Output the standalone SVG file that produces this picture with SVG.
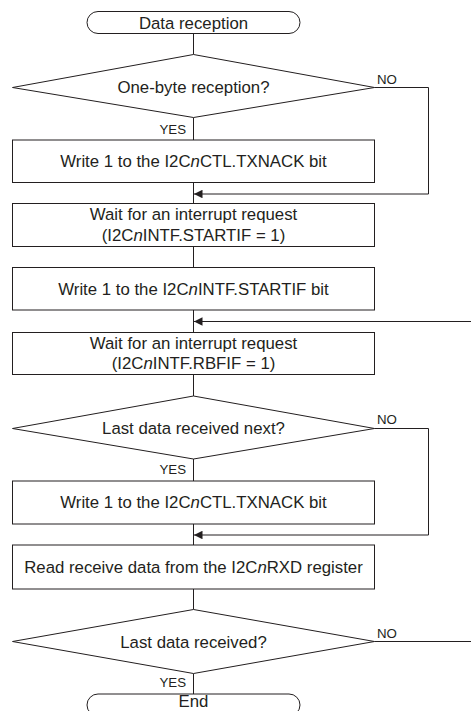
<svg xmlns="http://www.w3.org/2000/svg" width="471" height="711" viewBox="0 0 471 711">
<style>
.shape{fill:#fff;stroke:#231f20;stroke-width:1}
.conn{fill:none;stroke:#231f20;stroke-width:1}
.t{font-family:"Liberation Sans",Arial,sans-serif;font-size:16.8px;fill:#231f20;text-anchor:middle}
.lbl{font-family:"Liberation Sans",Arial,sans-serif;font-size:13.3px;fill:#231f20}
.i{font-style:italic}
</style>
<defs>
<marker id="ah" viewBox="0 0 10 10" refX="10" refY="5" markerWidth="9" markerHeight="8.5" markerUnits="userSpaceOnUse" orient="auto">
<path d="M0,0 L10,5 L0,10 Z" fill="#231f20"/>
</marker>
</defs>
<rect width="471" height="711" fill="#fff"/>
<g id="connectors">
<line class="conn" x1="193.5" y1="33.5" x2="193.5" y2="54.5"/>
<line class="conn" x1="193.5" y1="117.5" x2="193.5" y2="140"/>
<line class="conn" x1="193.5" y1="182.5" x2="193.5" y2="203.5"/>
<polyline class="conn" points="374.5,87.5 428.5,87.5 428.5,194 194,194" marker-end="url(#ah)"/>
<line class="conn" x1="193.5" y1="246.5" x2="193.5" y2="267.5"/>
<line class="conn" x1="193.5" y1="310" x2="193.5" y2="332.5"/>
<line class="conn" x1="471" y1="321.5" x2="194" y2="321.5" marker-end="url(#ah)"/>
<line class="conn" x1="193.5" y1="374.5" x2="193.5" y2="396"/>
<line class="conn" x1="193.5" y1="459" x2="193.5" y2="481"/>
<polyline class="conn" points="374.5,428.5 428.5,428.5 428.5,535 194,535" marker-end="url(#ah)"/>
<line class="conn" x1="193.5" y1="524" x2="193.5" y2="545"/>
<line class="conn" x1="193.5" y1="589" x2="193.5" y2="609.5"/>
<line class="conn" x1="374.5" y1="641.5" x2="471" y2="641.5"/>
<line class="conn" x1="193.5" y1="673.5" x2="193.5" y2="694"/>
<text class="lbl" x="377" y="84">NO</text>
<text class="lbl" x="186" y="134" text-anchor="end">YES</text>
<text class="lbl" x="377" y="424">NO</text>
<text class="lbl" x="186" y="474" text-anchor="end">YES</text>
<text class="lbl" x="377" y="638">NO</text>
<text class="lbl" x="186" y="687" text-anchor="end">YES</text>
</g>
<g id="start">
<rect class="shape" x="87" y="11.5" width="213" height="22" rx="11" ry="11"/>
<text class="t" x="193.5" y="28.5">Data reception</text>
</g>
<g id="dec1">
<polygon class="shape" points="193.5,54.5 374.5,87.5 193.5,117.5 12.5,87.5"/>
<text class="t" x="193.5" y="93">One-byte reception?</text>
</g>
<g id="box1">
<rect class="shape" x="12.5" y="140" width="362" height="42.5"/>
<text class="t" x="193.5" y="167">Write 1 to the I2C<tspan class="i">n</tspan>CTL.TXNACK bit</text>
</g>
<g id="box2">
<rect class="shape" x="12.5" y="203.5" width="362" height="43"/>
<text class="t" x="193.5" y="220">Wait for an interrupt request</text>
<text class="t" x="193.5" y="240.5">(I2C<tspan class="i">n</tspan>INTF.STARTIF = 1)</text>
</g>
<g id="box3">
<rect class="shape" x="12.5" y="267.5" width="362" height="42.5"/>
<text class="t" x="193.5" y="294.5">Write 1 to the I2C<tspan class="i">n</tspan>INTF.STARTIF bit</text>
</g>
<g id="box4">
<rect class="shape" x="12.5" y="332.5" width="362" height="42"/>
<text class="t" x="193.5" y="348.5">Wait for an interrupt request</text>
<text class="t" x="193.5" y="369">(I2C<tspan class="i">n</tspan>INTF.RBFIF = 1)</text>
</g>
<g id="dec2">
<polygon class="shape" points="193.5,396 374.5,428.5 193.5,459 12.5,428.5"/>
<text class="t" x="193.5" y="434">Last data received next?</text>
</g>
<g id="box5">
<rect class="shape" x="12.5" y="481" width="362" height="43"/>
<text class="t" x="193.5" y="508">Write 1 to the I2C<tspan class="i">n</tspan>CTL.TXNACK bit</text>
</g>
<g id="box6">
<rect class="shape" x="12.5" y="545" width="362" height="44"/>
<text class="t" x="193.5" y="572.5">Read receive data from the I2C<tspan class="i">n</tspan>RXD register</text>
</g>
<g id="dec3">
<polygon class="shape" points="193.5,609.5 374.5,641.5 193.5,673.5 12.5,641.5"/>
<text class="t" x="193.5" y="647.5">Last data received?</text>
</g>
<g id="end">
<rect class="shape" x="87" y="694" width="213" height="22" rx="11" ry="11"/>
<text class="t" x="193.5" y="707">End</text>
</g>
</svg>
